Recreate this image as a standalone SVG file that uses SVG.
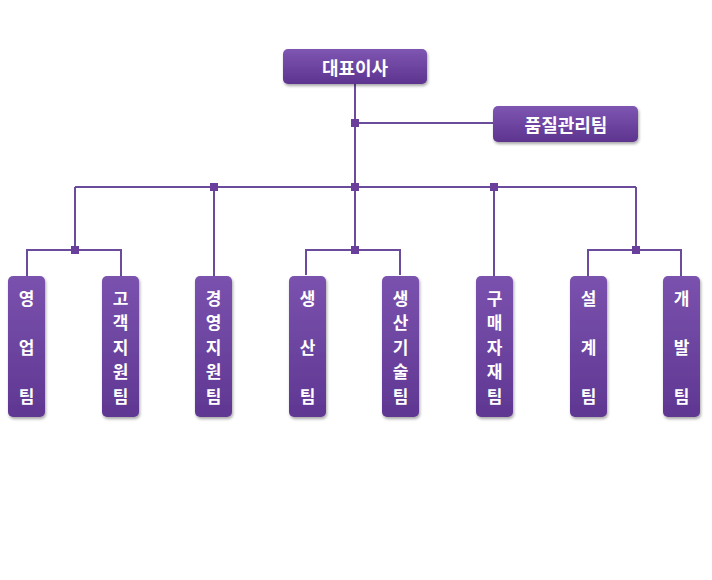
<svg xmlns="http://www.w3.org/2000/svg" width="712" height="580" viewBox="0 0 712 580">
<defs>
<linearGradient id="g" x1="0" y1="0" x2="0" y2="1">
<stop offset="0" stop-color="#7e56b2"/>
<stop offset="1" stop-color="#5d348f"/>
</linearGradient>
<linearGradient id="gv" x1="0" y1="0" x2="0" y2="1">
<stop offset="0" stop-color="#7a52ae"/>
<stop offset="1" stop-color="#5f3792"/>
</linearGradient>
<filter id="sh" x="-20%" y="-20%" width="140%" height="140%">
<feGaussianBlur in="SourceAlpha" stdDeviation="1.5"/>
<feOffset dx="1" dy="2" result="b"/>
<feComponentTransfer><feFuncA type="linear" slope="0.35"/></feComponentTransfer>
<feMerge><feMergeNode/><feMergeNode in="SourceGraphic"/></feMerge>
</filter>
</defs>
<style>
.box{fill:url(#g);filter:url(#sh)}
.vbox{fill:url(#gv);filter:url(#sh)}
.t{font-family:"Noto Sans CJK KR","Noto Sans",sans-serif;font-weight:bold;fill:#ffffff;text-anchor:middle;dominant-baseline:central}
.h{font-size:18px}
.v{font-size:17px}
.ln{stroke:#6b4b9c;stroke-width:2;fill:none}
.j{fill:#6a3f9c}
</style>
<rect width="712" height="580" fill="#ffffff"/>
<g id="connectors">
<path class="ln" d="M355 84V187M355 123H493M75 187H636M75 187V250M27 276V250H121V276M214 187V276M355 187V250M306 275V250H400V275M494 187V276M636 187V250M588 276V250H681V276"/>
<rect class="j" x="351" y="119" width="8" height="8"/>
<rect class="j" x="210" y="183" width="8" height="8"/>
<rect class="j" x="351" y="183" width="8" height="8"/>
<rect class="j" x="490" y="183" width="8" height="8"/>
<rect class="j" x="71" y="246" width="8" height="8"/>
<rect class="j" x="351" y="246" width="8" height="8"/>
<rect class="j" x="632" y="246" width="8" height="8"/>
</g>
<g id="ceo"><rect class="box" x="283" y="49" width="144" height="35" rx="5"/><text class="t h" x="355" y="67">대표이사</text></g>
<g id="qa"><rect class="box" x="493" y="106" width="145" height="36" rx="5"/><text class="t h" x="566" y="124">품질관리팀</text></g>
<g id="sales"><rect class="vbox" x="8" y="276" width="37" height="141" rx="5"/><text class="t v" x="26.5" y="297">영</text><text class="t v" x="26.5" y="346">업</text><text class="t v" x="26.5" y="395">팀</text></g>
<g id="cs"><rect class="vbox" x="102" y="276" width="37" height="141" rx="5"/><text class="t v" x="120.5" y="297">고</text><text class="t v" x="120.5" y="321.5">객</text><text class="t v" x="120.5" y="346">지</text><text class="t v" x="120.5" y="370.5">원</text><text class="t v" x="120.5" y="395">팀</text></g>
<g id="mgmt"><rect class="vbox" x="195" y="276" width="37" height="141" rx="5"/><text class="t v" x="213.5" y="297">경</text><text class="t v" x="213.5" y="321.5">영</text><text class="t v" x="213.5" y="346">지</text><text class="t v" x="213.5" y="370.5">원</text><text class="t v" x="213.5" y="395">팀</text></g>
<g id="prod"><rect class="vbox" x="289" y="276" width="37" height="141" rx="5"/><text class="t v" x="307.5" y="297">생</text><text class="t v" x="307.5" y="346">산</text><text class="t v" x="307.5" y="395">팀</text></g>
<g id="prodtech"><rect class="vbox" x="382" y="276" width="37" height="141" rx="5"/><text class="t v" x="400.5" y="297">생</text><text class="t v" x="400.5" y="321.5">산</text><text class="t v" x="400.5" y="346">기</text><text class="t v" x="400.5" y="370.5">술</text><text class="t v" x="400.5" y="395">팀</text></g>
<g id="purchase"><rect class="vbox" x="476" y="276" width="37" height="141" rx="5"/><text class="t v" x="494.5" y="297">구</text><text class="t v" x="494.5" y="321.5">매</text><text class="t v" x="494.5" y="346">자</text><text class="t v" x="494.5" y="370.5">재</text><text class="t v" x="494.5" y="395">팀</text></g>
<g id="design"><rect class="vbox" x="570" y="276" width="37" height="141" rx="5"/><text class="t v" x="588.5" y="297">설</text><text class="t v" x="588.5" y="346">계</text><text class="t v" x="588.5" y="395">팀</text></g>
<g id="dev"><rect class="vbox" x="663" y="276" width="37" height="141" rx="5"/><text class="t v" x="681.5" y="297">개</text><text class="t v" x="681.5" y="346">발</text><text class="t v" x="681.5" y="395">팀</text></g>
</svg>
